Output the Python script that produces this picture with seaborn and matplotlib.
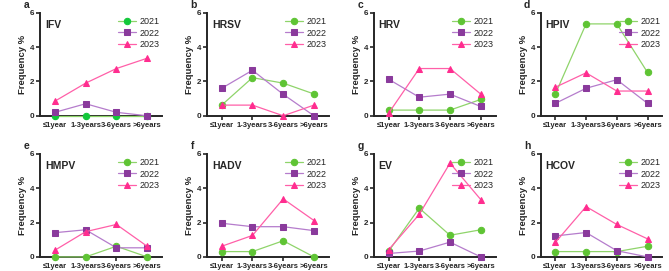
import matplotlib
matplotlib.use("Agg")
import matplotlib.pyplot as plt
import seaborn as sns
import pandas as pd

sns.set_style("ticks")
plt.rcParams['font.family'] = ['Liberation Sans', 'DejaVu Sans']

age_groups = ["≤1year", "1-3years", "3-6years", ">6years"]
years = ["2021", "2022", "2023"]
panel_letters = ["a", "b", "c", "d", "e", "f", "g", "h"]
viruses = ["IFV", "HRSV", "HRV", "HPIV", "HMPV", "HADV", "EV", "HCOV"]

freq_2021 = {
    "IFV": [0, 0, 0, 0],
    "HRSV": [0.62, 2.22, 1.9, 1.27],
    "HRV": [0.33, 0.33, 0.33, 0.95],
    "HPIV": [1.26, 5.35, 5.35, 2.52],
    "HMPV": [0, 0, 0.62, 0],
    "HADV": [0.31, 0.31, 0.94, 0],
    "EV": [0.32, 2.84, 1.26, 1.58],
    "HCOV": [0.31, 0.31, 0.31, 0.62],
}
freq_2022 = {
    "IFV": [0.2, 0.7, 0.2, 0],
    "HRSV": [1.6, 2.65, 1.25, 0],
    "HRV": [2.13, 1.08, 1.26, 0.54],
    "HPIV": [0.72, 1.6, 2.1, 0.72],
    "HMPV": [1.41, 1.58, 0.53, 0.53],
    "HADV": [1.96, 1.76, 1.76, 1.53],
    "EV": [0.2, 0.34, 0.86, 0],
    "HCOV": [1.22, 1.42, 0.36, 0],
}
freq_2023 = {
    "IFV": [0.85, 1.9, 2.75, 3.35],
    "HRSV": [0.62, 0.62, 0, 0.62],
    "HRV": [0.14, 2.75, 2.75, 1.26],
    "HPIV": [1.66, 2.5, 1.44, 1.44],
    "HMPV": [0.39, 1.47, 1.89, 0.62],
    "HADV": [0.62, 1.25, 3.38, 2.12],
    "EV": [0.41, 2.48, 5.46, 3.34],
    "HCOV": [0.84, 2.93, 1.89, 1.05],
}
freq_by_year = {"2021": freq_2021, "2022": freq_2022, "2023": freq_2023}

line_colors = {"2021": "#8fd46a", "2022": "#b57ccc", "2023": "#ff5fa8"}
marker_colors = {"2021": "#5fc434", "2022": "#8a3a9c", "2023": "#ff2d8f"}
markers = {"2021": "o", "2022": "s", "2023": "^"}

fig, axes = plt.subplots(2, 4, figsize=(6.69, 2.71), dpi=100)
fig.subplots_adjust(left=0.06, right=0.99, top=0.953, bottom=0.052,
                    wspace=0.37, hspace=0.37)

for ax, virus, letter in zip(axes.flat, viruses, panel_letters):
    for yr in years:
        df = pd.DataFrame({"pos": range(len(age_groups)),
                           "freq": freq_by_year[yr][virus]})
        mc = marker_colors[yr]
        if virus == "IFV" and yr == "2021":
            mc = "#12c83a"
        sns.lineplot(data=df, x="pos", y="freq", ax=ax, color=line_colors[yr],
                     marker=markers[yr], markersize=4.6, markerfacecolor=mc,
                     markeredgecolor=mc, linewidth=0.9, label=yr, clip_on=False,
                     zorder=3)
    ax.set_xlim(-0.48, 3.48)
    ax.set_ylim(0, 6)
    ax.set_yticks([0, 2, 4, 6])
    ax.set_xticks(range(len(age_groups)))
    ax.set_xticklabels(age_groups, fontsize=5.5, fontweight="bold")
    ax.tick_params(axis="y", labelsize=5.8, width=1.2, length=3, pad=1)
    ax.tick_params(axis="x", width=1.2, length=3, pad=1.5)
    for lbl in ax.get_yticklabels():
        lbl.set_fontweight("bold")
    ax.set_xlabel("")
    ax.set_ylabel("Frequency %", fontsize=6.8, fontweight="bold", labelpad=2)
    sns.despine(ax=ax)
    for sp in ["left", "bottom"]:
        ax.spines[sp].set_linewidth(1.4)
    ax.text(0.04, 0.93, virus, transform=ax.transAxes, fontsize=7.5,
            fontweight="bold", va="top", ha="left")
    ax.text(-0.135, 1.05, letter, transform=ax.transAxes, fontsize=7.5,
            fontweight="bold", va="baseline", ha="left")
    ax.legend(loc="upper right", frameon=False, fontsize=6.5,
              handlelength=2.0, handletextpad=0.4, labelspacing=0.25,
              borderaxespad=0.1, bbox_to_anchor=(1.02, 1.0))

fig.savefig("out.png", dpi=100)
